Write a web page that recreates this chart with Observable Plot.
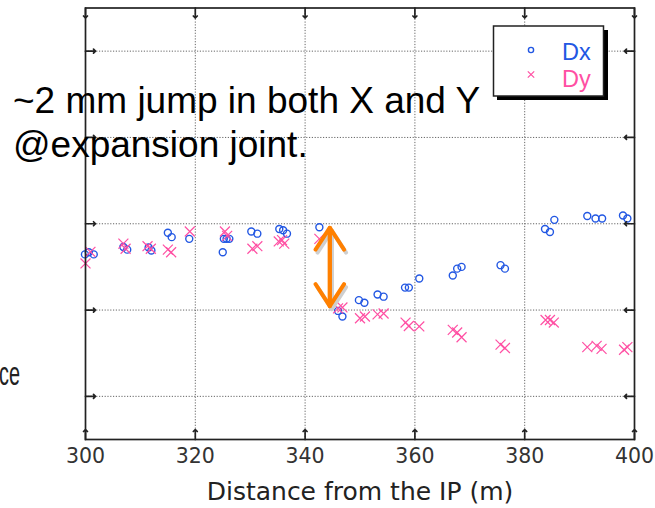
<!DOCTYPE html>
<html>
<head>
<meta charset="utf-8">
<script src="https://cdn.jsdelivr.net/npm/d3@7"></script>
<script src="https://cdn.jsdelivr.net/npm/@observablehq/plot@0.6"></script>
<style>
  html, body { margin: 0; padding: 0; background: #fff; }
  #wrap { position: relative; width: 655px; height: 508px; overflow: hidden; }
  #wrap > svg { position: absolute; left: 0; top: 0; }
</style>
</head>
<body>
<div id="wrap"></div>
<script>
// ---- data ----
const series = ["Dx", "Dy"];
const seriesColors = ["#2257e3", "#ff4fa3"];

const dxX = [299.9,300.6,301.5,306.9,307.6,311.5,312.0,315.0,315.7,318.9,325.0,325.2,325.7,326.2,330.2,331.3,335.3,336.0,336.7,342.6,346.0,346.8,349.8,350.8,353.2,354.3,358.2,358.9,360.8,366.9,367.7,368.5,375.6,376.4,383.7,384.6,385.4,391.4,392.9,394.1,397.9,398.7];
const dxY = [-0.71,-0.66,-0.71,-0.54,-0.60,-0.55,-0.62,-0.21,-0.31,-0.35,-0.66,-0.35,-0.35,-0.35,-0.18,-0.23,-0.12,-0.15,-0.23,-0.08,-2.02,-2.15,-1.77,-1.83,-1.64,-1.69,-1.48,-1.48,-1.27,-1.20,-1.04,-1.00,-0.96,-1.04,-0.12,-0.19,0.09,0.18,0.12,0.12,0.19,0.12];

const dyX = [300.0,300.9,306.9,307.3,311.3,311.9,315.0,315.6,319.0,325.4,325.8,330.4,331.3,335.2,335.8,336.2,342.6,346.0,346.8,350.0,350.9,353.2,354.3,358.3,358.9,360.8,366.9,367.7,368.5,375.6,376.4,383.8,384.6,385.3,391.4,393.1,394.0,398.1,398.7];
const dyY = [-0.92,-0.65,-0.46,-0.58,-0.52,-0.58,-0.60,-0.66,-0.18,-0.18,-0.28,-0.58,-0.52,-0.41,-0.38,-0.46,-0.35,-1.96,-1.94,-2.19,-2.15,-2.10,-2.08,-2.29,-2.37,-2.38,-2.46,-2.52,-2.63,-2.80,-2.88,-2.23,-2.23,-2.29,-2.86,-2.83,-2.90,-2.92,-2.86];

const xTicks = [300, 320, 340, 360, 380, 400];
const xGrid = [320, 340, 360, 380];
const yTicks = [-4, -2, 0, 2, 4];
const xLabel = "Distance from the IP (m)";

// the ~2 mm jump at the expansion joint
const jumpX = [344.5];
const jumpTop = -0.09;
const jumpBottom = -1.91;

const noteLines = ["~2 mm jump in both X and Y", "@expansion joint."];
const leftFragment = "ce";

// ---- tables ----
const dxData = dxX.map((x, i) => ({x, y: dxY[i]}));
const dyData = dyX.map((x, i) => ({x, y: dyY[i]}));
const jumpUp = jumpX.map(x => ({x, y1: jumpBottom, y2: jumpTop}));
const jumpDown = jumpX.map(x => ({x, y1: jumpTop, y2: jumpBottom}));

const gridStyle = {stroke: "#666", strokeOpacity: 1, strokeWidth: 1, strokeDasharray: "1.2,1.6"};
const tickStyle = {stroke: "#222", strokeWidth: 1.7, length: 10, anchor: "start"};
const arrowStyle = {x: "x", y1: "y1", y2: "y2", strokeWidth: 4, headLength: 21, headAngle: 66, inset: 0};

const chart = Plot.plot({
  width: 655,
  height: 508,
  marginLeft: 85,
  marginRight: 21,
  marginTop: 7.5,
  marginBottom: 69,
  x: {domain: [300, 400], axis: null},
  y: {domain: [-5, 5], axis: null},
  style: {fontFamily: "DejaVu Sans", background: "white", overflow: "visible"},
  marks: [
    Plot.gridX(xGrid, gridStyle),
    Plot.gridY(yTicks, gridStyle),
    Plot.dot(dxData, {x: "x", y: "y", r: 3.5, stroke: seriesColors[0], strokeWidth: 1.4, fill: "none"}),
    Plot.dot(dyData, {x: "x", y: "y", r: 4.6, symbol: "times", stroke: seriesColors[1], strokeWidth: 1.2}),
    // arrow shadow
    Plot.arrow(jumpUp, {...arrowStyle, stroke: "#cfcfcf", dx: 2, dy: 3}),
    Plot.arrow(jumpDown, {...arrowStyle, stroke: "#cfcfcf", dx: 2, dy: 3}),
    Plot.arrow(jumpUp, {...arrowStyle, stroke: "#ff8000"}),
    Plot.arrow(jumpDown, {...arrowStyle, stroke: "#ff8000"}),
    Plot.frame({stroke: "#222", strokeWidth: 1.7}),
    Plot.vector(yTicks, {y: d => d, frameAnchor: "left", rotate: 90, ...tickStyle}),
    Plot.vector(yTicks, {y: d => d, frameAnchor: "right", rotate: -90, ...tickStyle}),
    Plot.vector(xTicks, {x: d => d, frameAnchor: "top", rotate: 180, ...tickStyle}),
    Plot.vector(xTicks, {x: d => d, frameAnchor: "bottom", rotate: 0, ...tickStyle}),
    Plot.text(xTicks, {x: d => d, frameAnchor: "bottom", dy: 23, text: d => String(d), fontSize: 20.5, fill: "#333"}),
    Plot.text([xLabel], {frameAnchor: "bottom", dy: 60, text: d => d, fontSize: 25, fill: "#222"})
  ]
});

const wrap = document.getElementById("wrap");
wrap.appendChild(chart);

// ---- overlay: annotation, legend, cropped fragment ----
const ov = d3.select(wrap).append("svg")
  .attr("width", 655).attr("height", 508)
  .style("position", "absolute").style("left", 0).style("top", 0);

ov.append("text")
  .attr("x", -1).attr("y", 385)
  .attr("font-family", "Liberation Sans, Arial, sans-serif")
  .attr("font-size", 34)
  .attr("textLength", 21).attr("lengthAdjust", "spacingAndGlyphs")
  .attr("fill", "#222")
  .text(leftFragment);

noteLines.forEach((t, i) => {
  ov.append("text")
    .attr("x", 13).attr("y", 113 + i * 44)
    .attr("font-family", "Liberation Sans, Arial, sans-serif")
    .attr("font-size", 37)
    .attr("fill", "#000")
    .text(t);
});

// legend box with shadow
const lg = ov.append("g");
lg.append("rect").attr("x", 497).attr("y", 30).attr("width", 111).attr("height", 70).attr("fill", "#000");
lg.append("rect").attr("x", 493.5).attr("y", 26).attr("width", 110).attr("height", 70)
  .attr("fill", "#fff").attr("stroke", "#222").attr("stroke-width", 1.5);
const legY = [50, 74.5];
const legBase = [60, 86.5];
series.forEach((s, i) => {
  if (i === 0) {
    lg.append("circle").attr("cx", 531).attr("cy", legY[i]).attr("r", 2.6)
      .attr("fill", "none").attr("stroke", seriesColors[i]).attr("stroke-width", 1.4);
  } else {
    const h = 3.2;
    lg.append("path")
      .attr("d", `M${531 - h},${legY[i] - h}L${531 + h},${legY[i] + h}M${531 - h},${legY[i] + h}L${531 + h},${legY[i] - h}`)
      .attr("stroke", seriesColors[i]).attr("stroke-width", 1.2);
  }
  lg.append("text")
    .attr("x", 562).attr("y", legBase[i])
    .attr("font-family", "Liberation Sans, Arial, sans-serif")
    .attr("font-size", 23.5)
    .attr("fill", seriesColors[i])
    .text(s);
});
</script>
</body>
</html>
